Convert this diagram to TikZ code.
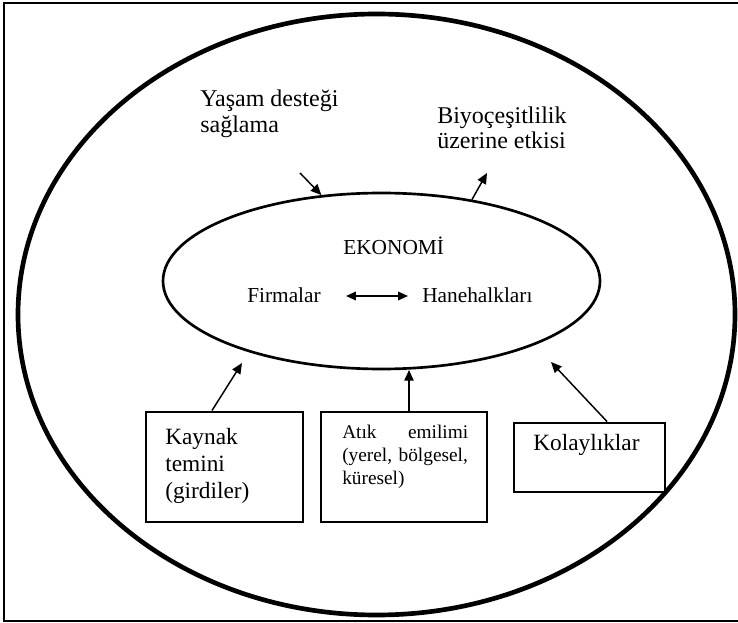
\documentclass[tikz,border=0pt]{standalone}
\usepackage{fontspec}
\setmainfont{Liberation Serif}
\usetikzlibrary{arrows.meta,shapes.geometric,calc}
\begin{document}
\begin{tikzpicture}[x=0.75pt,y=-0.75pt,
  lbl/.style={inner sep=0pt, align=left, anchor=north west},
  bl/.style={inner sep=0pt, anchor=base west},
  box/.style={draw, line width=2.2pt, rectangle, inner sep=0pt},
  arr/.style={line width=1.1pt, -{Triangle[length=8pt,width=7pt]}},
  dbl/.style={line width=1.1pt, {Triangle[length=7.5pt,width=6.5pt]}-{Triangle[length=7.5pt,width=6.5pt]}},
]
\useasboundingbox (0,0) rectangle (738,623);
% outer frame (right side is cut off)
\draw[line width=1.5pt] (760,3) -- (4,3) -- (4,621) -- (760,621);
% environment ellipse
\node[draw, ellipse, line width=3.5pt, minimum width=537.75pt, minimum height=450.75pt, inner sep=0pt] (world) at (376.5,314.5) {};
% economy ellipse
\node[draw, ellipse, line width=2pt, minimum width=327.75pt, minimum height=132pt, inner sep=0pt] (eko) at (381.5,281) {};
\node[bl, font=\fontsize{16}{18}\selectfont] (ekotxt) at (343,255) {EKONOMİ};
\node[bl, font=\fontsize{16}{18}\selectfont] (firm) at (247,302) {Firmalar};
\node[bl, font=\fontsize{16}{18}\selectfont] (hane) at (422,302) {Hanehalkları};
\draw[dbl] ($(firm.base east)+(25,-6)$) -- ($(hane.base west)+(-14,-6)$);
% top labels
\node[lbl, font=\fontsize{18}{19.5}\selectfont] (yasam) at (200,89.5) {Yaşam desteği\\sağlama};
\node[lbl, font=\fontsize{18}{18.75}\selectfont] (biyo) at (437,106.5) {Biyoçeşitlilik\\üzerine etkisi};
\coordinate (s1) at (300,173);
\coordinate (s2) at (487,173);
\draw[arr] (s1) -- (eko.125);
\draw[arr] (eko.42) -- (s2);
% boxes
\node[box, minimum width=117.75pt, minimum height=82.5pt] (b1) at (224.5,467) {};
\node[box, minimum width=124.5pt, minimum height=82.5pt] (b2) at (404,467) {};
\node[box, minimum width=113.25pt, minimum height=51.75pt] (b3) at (589.5,457.5) {};
\node[lbl, font=\fontsize{17.5}{20.25}\selectfont] (kt) at (165,428) {Kaynak\\temini\\(girdiler)};
\node[lbl, text width=94.5pt, font=\fontsize{14.5}{17.25}\selectfont] (at) at (342,424.5) {Atık\hfill emilimi\\(yerel, bölgesel,\\küresel)};
\node[bl, font=\fontsize{17.5}{20}\selectfont] (kol) at (533,450) {Kolaylıklar};
\coordinate (t1) at (242,363);
\coordinate (t2) at (409,370);
\coordinate (t3) at (551,362);
\draw[arr] ($(b1.north)+(-12.5,0)$) -- (t1);
\draw[arr] ($(b2.north)+(5,0)$) -- (t2);
\draw[arr] ($(b3.north)+(17.5,0)$) -- (t3);
\end{tikzpicture}
\end{document}
